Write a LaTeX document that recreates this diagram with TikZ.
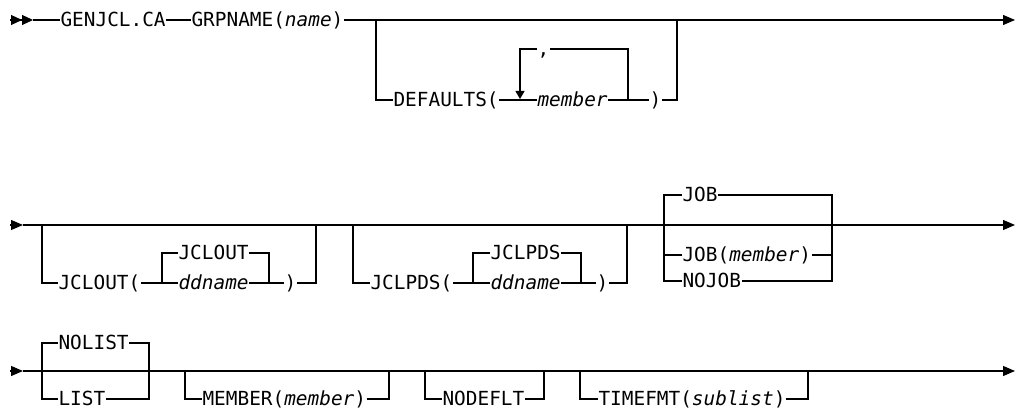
\documentclass[tikz,border=0pt]{standalone}
\usepackage{fontspec}
\setmonofont{DejaVu Sans Mono}
\usetikzlibrary{arrows.meta}

\begin{document}
\begin{tikzpicture}[
  x=0.5pt, y=-0.5pt,
  line width=0.55pt,
  every node/.style={font=\ttfamily\fontsize{9.7pt}{11pt}\selectfont},
  kw/.style={anchor=west,inner sep=0pt,text height=6.8pt,text depth=0pt},
  fin/.style={-{Triangle[length=6pt,width=5pt]}},
  dbl/.style={-{Triangle[length=5.5pt,width=5pt,sep=0pt]Triangle[length=5.5pt,width=5pt,sep=0pt]}},
  rep/.style={-{Triangle[length=4pt,width=4.5pt]}}
]
\useasboundingbox (0,0) rectangle (1017,410);
% first line
\coordinate (a0) at (10,20);
\coordinate (a1) at (33,20);
\coordinate (a2) at (1015,20);
\node[kw] (genjcl) at (60,20) {GENJCL.CA};
\node[kw] (grpname) at (191,20) {GRPNAME(\textit{name})};
\coordinate (defl) at (376,20);
\coordinate (defr) at (677,20);
\node[kw] (defaults) at (393,100) {DEFAULTS(};
\node[kw] (defmem) at (537,100) {\textit{member}};
\node[kw] (defrp) at (649,100) {)};
\node[kw] (comma) at (537,49) {,};
\coordinate (repl) at (520,99);
\coordinate (repr) at (628,100);
\draw[dbl] (a0) -- (a1);
\draw (a1) -- (genjcl);
\draw (genjcl) -- (grpname);
\draw[fin] (grpname) -- (a2);
\draw (defl) |- (defaults);
\draw (defaults) -- (defmem);
\draw (defmem) -- (defrp);
\draw (defrp) -| (defr);
\draw (repr) |- (comma);
\draw[rep] (comma) -| (repl);
% second line
\coordinate (b0) at (10,225);
\coordinate (b1) at (23,225);
\coordinate (b2) at (1015,225);
\draw[fin] (b0) -- (b1);
\draw[fin] (b1) -- (b2);
\coordinate (outl) at (42,225);
\coordinate (outr) at (316,225);
\coordinate (outil) at (162,283);
\coordinate (outir) at (269,283);
\node[kw] (jclout) at (58,283) {JCLOUT(};
\node[kw] (outdef) at (178,253) {JCLOUT};
\node[kw] (outdd) at (178,283) {\textit{ddname}};
\node[kw] (outrp) at (284,283) {)};
\draw (outl) |- (jclout);
\draw (jclout) -- (outdd);
\draw (outdd) -- (outrp);
\draw (outrp) -| (outr);
\draw (outil) |- (outdef);
\draw (outdef) -| (outir);
\coordinate (pdsl) at (353,225);
\coordinate (pdsr) at (627,225);
\coordinate (pdsil) at (473,283);
\coordinate (pdsir) at (581,283);
\node[kw] (jclpds) at (370,283) {JCLPDS(};
\node[kw] (pdsdef) at (490,253) {JCLPDS};
\node[kw] (pdsdd) at (490,283) {\textit{ddname}};
\node[kw] (pdsrp) at (596,283) {)};
\draw (pdsl) |- (jclpds);
\draw (jclpds) -- (pdsdd);
\draw (pdsdd) -- (pdsrp);
\draw (pdsrp) -| (pdsr);
\draw (pdsil) |- (pdsdef);
\draw (pdsdef) -| (pdsir);
\coordinate (jobl) at (664,281);
\coordinate (jobr) at (832,281);
\node[kw] (job) at (682,195) {JOB};
\node[kw] (jobmem) at (682,255) {JOB(\textit{member})};
\node[kw] (nojob) at (682,281) {NOJOB};
\draw (job) -| (jobl) -- (nojob);
\draw (job) -| (jobr) -- (nojob);
\draw (jobmem) -- (jobmem -| jobl);
\draw (jobmem) -- (jobmem -| jobr);
% third line
\coordinate (c0) at (10,371);
\coordinate (c1) at (23,371);
\coordinate (c2) at (1015,371);
\draw[fin] (c0) -- (c1);
\draw[fin] (c1) -- (c2);
\coordinate (lstl) at (42,399);
\coordinate (lstr) at (149,399);
\node[kw] (nolist) at (58,343) {NOLIST};
\node[kw] (list) at (58,399) {LIST};
\draw (nolist) -| (lstl) -- (list);
\draw (nolist) -| (lstr) -- (list);
\coordinate (meml) at (185,371);
\coordinate (memr) at (389,371);
\node[kw] (member) at (202,399) {MEMBER(\textit{member})};
\draw (meml) |- (member);
\draw (member) -| (memr);
\coordinate (nodl) at (425,371);
\coordinate (nodr) at (544,371);
\node[kw] (nodeflt) at (442,399) {NODEFLT};
\draw (nodl) |- (nodeflt);
\draw (nodeflt) -| (nodr);
\coordinate (timl) at (580,371);
\coordinate (timr) at (808,371);
\node[kw] (timefmt) at (598,399) {TIMEFMT(\textit{sublist})};
\draw (timl) |- (timefmt);
\draw (timefmt) -| (timr);
\end{tikzpicture}
\end{document}
